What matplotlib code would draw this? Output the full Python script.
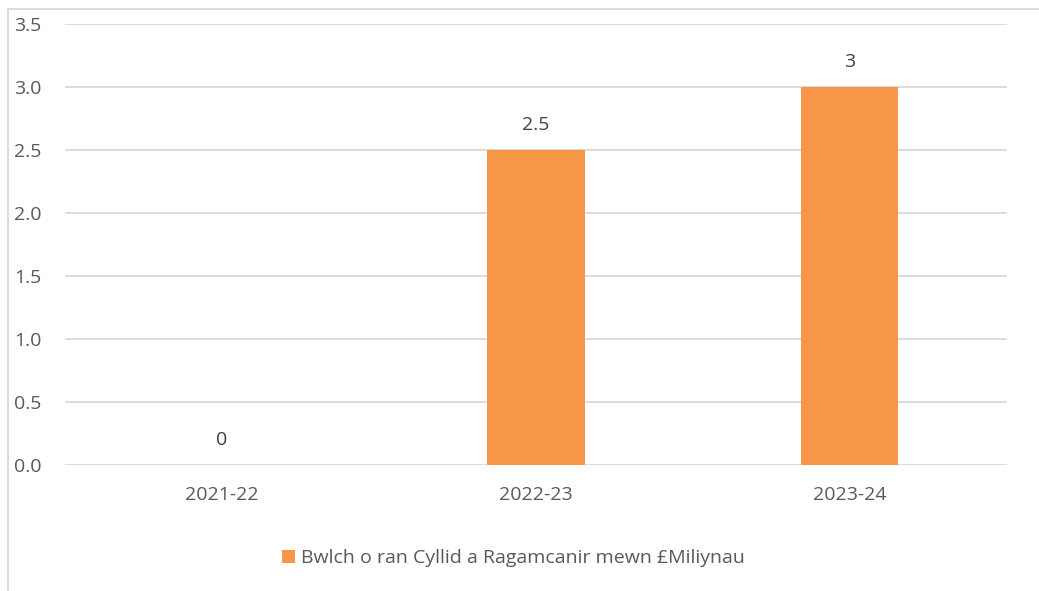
import matplotlib.pyplot as plt
from matplotlib.lines import Line2D

years = ["2021-22", "2022-23", "2023-24"]
gap = [0, 2.5, 3]
label_txt = ["0", "2.5", "3"]
series_name = "Bwlch o ran Cyllid a Ragamcanir mewn £Miliynau"

plt.rcParams['font.family'] = ['Open Sans', 'DejaVu Sans']
txt_col = "#595959"
bar_col = "#F79646"

fig = plt.figure(figsize=(10.39, 5.91), dpi=100)
ax = fig.add_axes([0.0626, 0.2132, 0.9064, 0.7462])

x = range(len(years))
bars = ax.bar(x, gap, width=0.31, color=bar_col, label=series_name, zorder=3)

for xi, v, t in zip(x, gap, label_txt):
    ax.annotate(t, (xi, v), xytext=(0, 18), textcoords="offset points",
                ha="center", va="center", fontsize=14, color="#404040")

ax.set_xlim(-0.5, 2.5)
ax.set_ylim(0, 3.5)
ax.set_yticks([0, 0.5, 1.0, 1.5, 2.0, 2.5, 3.0, 3.5])
ax.set_yticklabels([f"{v:.1f}" for v in ax.get_yticks()])
ax.set_xticks(list(x))
ax.set_xticklabels(years)
ax.grid(axis="y", color="#d9d9d9", linewidth=1.3, zorder=0)
for s in ax.spines.values():
    s.set_visible(False)
ax.tick_params(axis="both", length=0, labelsize=14, labelcolor=txt_col)
ax.tick_params(axis="y", pad=17)
ax.tick_params(axis="x", pad=15)

fig.legend(handles=[bars], labels=[series_name], loc="center",
           bbox_to_anchor=(0.494, 0.055), frameon=False, fontsize=14,
           handlelength=0.65, handleheight=0.65, handletextpad=0.3,
           labelcolor=txt_col)

# chart frame edges (left and top visible in the crop)
fig.add_artist(Line2D([8/1039, 8/1039], [0, 1 - 9/591], color="#d9d9d9", lw=1.3))
fig.add_artist(Line2D([8/1039, 1], [1 - 9/591, 1 - 9/591], color="#d9d9d9", lw=1.3))

fig.savefig("out.png", dpi=100)
